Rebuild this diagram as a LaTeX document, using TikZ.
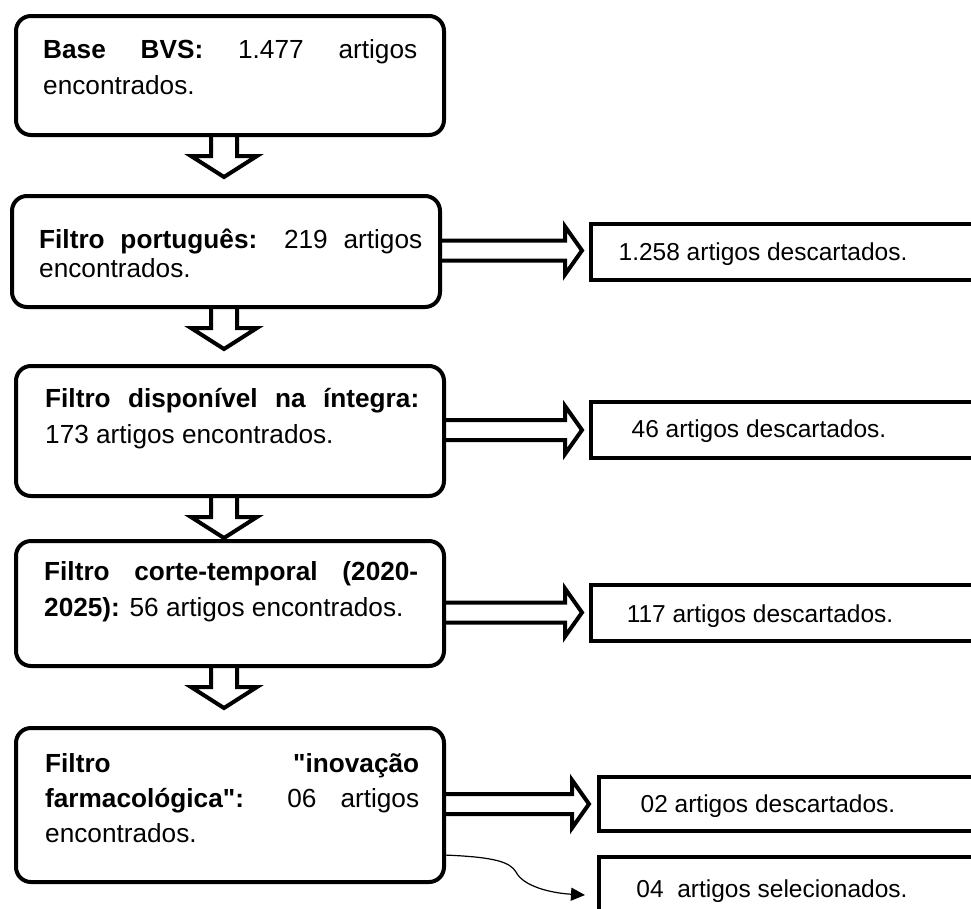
\documentclass[tikz,border=0pt]{standalone}
\usepackage{fontspec}
\setmainfont{Liberation Sans}[Ligatures=TeXOff]
\usetikzlibrary{arrows.meta,calc}
\begin{document}
\begin{tikzpicture}[x=1pt,y=-1pt,
  lbox/.style={draw,line width=4pt,rounded corners=15pt,outer sep=0pt,minimum width=428pt,inner sep=0pt},
  rbox/.style={draw,line width=4pt,outer sep=0pt,minimum width=420pt,minimum height=56pt,inner sep=0pt,anchor=west},
  ltext/.style={anchor=base west,text width=374pt,align=justify,inner sep=0pt,font=\fontsize{26.2pt}{36pt}\selectfont},
  rtext/.style={anchor=base,inner sep=0pt,font=\fontsize{24.5pt}{30pt}\selectfont},
  barrow/.style={draw,line width=4pt,line join=miter},
  curvearrow/.style={line width=1.2pt,-{Triangle[length=14pt,width=13pt]}}
]
\useasboundingbox (0,0) rectangle (971,908);
\clip (0,0) rectangle (971,908);

% left boxes
\node[lbox,minimum height=119pt] (b1) at (230,75.5) {};
\node[lbox,minimum height=111pt] (b2) at (226,251.5) {};
\node[lbox,minimum height=130pt] (b3) at (230,431) {};
\node[lbox,minimum height=125pt] (b4) at (230,603.5) {};
\node[lbox,minimum height=154pt] (b5) at (230,805) {};

\node[ltext] (t1) at (43,58) {\textbf{Base BVS:} 1.477 artigos\linebreak encontrados.};
\node[ltext,text width=383pt,font=\fontsize{26.2pt}{29pt}\selectfont] (t2) at (39,248) {\textbf{Filtro português:} 219 artigos\linebreak encontrados.};
\node[ltext] (t3) at (45,407) {\textbf{Filtro disponível na íntegra:}\linebreak 173 artigos encontrados.};
\node[ltext,font=\fontsize{26.2pt}{36.5pt}\selectfont] (t4) at (44,580) {\textbf{Filtro corte-temporal (2020-\linebreak 2025):} 56 artigos encontrados.};
\node[ltext,font=\fontsize{26.2pt}{35pt}\selectfont] (t5) at (45,772) {\textbf{Filtro "inovação\linebreak farmacológica":} 06 artigos\linebreak encontrados.};

% right boxes
\node[rbox] (r1) at (591,252) {};
\node[rbox] (r2) at (591,430) {};
\node[rbox] (r3) at (591,613) {};
\node[rbox,minimum height=54pt] (r4) at (599,804) {};
\node[rbox,minimum height=100pt,anchor=north west] (r5) at (599,857) {};

\node[rtext] (s1) at (763,260) {1.258 artigos descartados.};
\node[rtext] (s2) at (759,437) {46 artigos descartados.};
\node[rtext] (s3) at (760,622) {117 artigos descartados.};
\node[rtext] (s4) at (768,812) {02 artigos descartados.};
\node[rtext] (s5) at (772,897) {04~ artigos selecionados.};

% down block arrows
\coordinate (ax) at (224,0);
\foreach \b in {b1,b2,b3,b4}{
  \draw[barrow] (\b.south -| ax) ++(-13,0) -- ++(0,21) -- ++(-20,0) -- ++(33,21) -- ++(33,-21) -- ++(-20,0) -- ++(0,-21);
}

% horizontal block arrows
\coordinate (p1) at (582,250.5);
\coordinate (p2) at (582,430);
\coordinate (p3) at (582,612.5);
\coordinate (p4) at (589,804);
\foreach \b/\p in {b2/p1,b3/p2,b4/p3,b5/p4}{
  \draw[barrow] ($(\b.east |- \p)+(0,-10)$) -- ($(\p)+(-17,-10)$) -- ($(\p)+(-17,-24)$) -- (\p)
     -- ($(\p)+(-17,24)$) -- ($(\p)+(-17,10)$) -- ($(\b.east |- \p)+(0,10)$);
}

% curved connector
\coordinate (c0) at (0,855);
\coordinate (c5) at (585,895);
\draw[curvearrow] (b5.east |- c0) .. controls (495,857) and (510,862) .. (516,872) .. controls (523,886) and (550,893) .. (c5);
\end{tikzpicture}
\end{document}
